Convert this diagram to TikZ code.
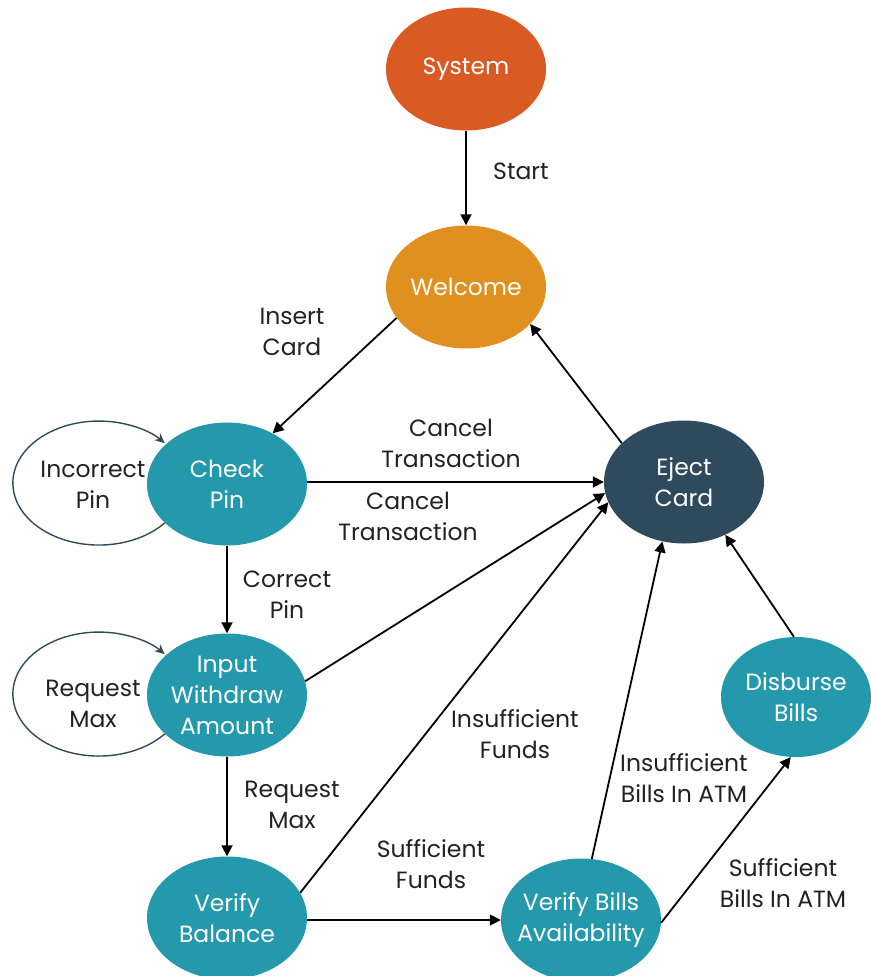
\documentclass[tikz,border=0pt]{standalone}
\usepackage{fontspec}
\setmainfont{Poppins}
\usetikzlibrary{shapes.geometric,arrows.meta}
\definecolor{sysorange}{HTML}{DA5A24}
\definecolor{welorange}{HTML}{E0901F}
\definecolor{tealst}{HTML}{2499AB}
\definecolor{ejectblue}{HTML}{2E4A5C}
\definecolor{loopslate}{HTML}{2F4B5A}
\definecolor{labelgray}{HTML}{222222}

\begin{document}
\begin{tikzpicture}[x=1pt,y=-1pt,
  state/.style={ellipse, minimum width=160pt, minimum height=123pt, inner sep=0pt,
    text=white, align=center, font=\fontsize{23.5}{31}\selectfont},
  lbl/.style={align=center, text=labelgray, inner sep=0pt, font=\fontsize{23.5}{31}\selectfont},
  arr/.style={draw=black, line width=1.8pt, -{Triangle[length=11pt,width=11pt]}},
  loopline/.style={draw=loopslate, line width=1.4pt, -{Stealth[length=10pt,width=9pt]}}]

\useasboundingbox (0,0) rectangle (870,976);

% states
\node[state, fill=sysorange] (sys) at (466,69) {System};
\node[state, fill=welorange] (wel) at (466,287) {Welcome};
\node[state, fill=tealst] (cp) at (227,484) {Check\\Pin};
\node[state, fill=ejectblue] (ec) at (684,482) {Eject\\Card};
\node[state, fill=tealst] (iw) at (227,695) {Input\\Withdraw\\Amount};
\node[state, fill=tealst, minimum width=150pt, minimum height=120pt] (db) at (796,697) {Disburse\\Bills};
\node[state, fill=tealst] (vb) at (227,918) {Verify\\Balance};
\node[state, fill=tealst, inner xsep=-20pt] (vba) at (581,920) {Verify Bills\\Availability};

% self loops
\draw[loopline] (cp.212) arc[start angle=40, end angle=320, x radius=86, y radius=62];
\draw[loopline] (iw.212) arc[start angle=40, end angle=320, x radius=86, y radius=62];

% transitions
\draw[arr] (sys) -- (wel);
\draw[arr] (wel.204) -- (cp.48);
\draw[arr] (cp.east |- ec.west) -- (ec.west);
\draw[arr] (iw.10) -- (ec.188);
\draw[arr] (vb.19) -- (ec.195);
\draw[arr] (cp) -- (iw);
\draw[arr] (iw) -- (vb);
\draw[arr] (vb.east |- vba.west) -- (vba.west);
\draw[arr] (vba.80) -- (ec.250);
\draw[arr] (vba.358) -- (db.265);
\draw[arr] (db.92) -- (ec.308);
\draw[arr] (ec.148) -- (wel.330);

% transition labels
\node[lbl] (lstart) at (521,171) {Start};
\node[lbl] (linsert) at (292,332) {Insert\\Card};
\node[lbl] (lcancela) at (451,443) {Cancel\\Transaction};
\node[lbl] (lcancelb) at (408,516) {Cancel\\Transaction};
\node[lbl] (lincorrect) at (93,485) {Incorrect\\Pin};
\node[lbl] (lcorrect) at (287,595) {Correct\\Pin};
\node[lbl] (lreqa) at (93,704) {Request\\Max};
\node[lbl] (lreqb) at (292,805) {Request\\Max};
\node[lbl] (linsfunds) at (515,734) {Insufficient\\Funds};
\node[lbl] (lsuffunds) at (431,864) {Sufficient\\Funds};
\node[lbl] (linsbills) at (684,778) {Insufficient\\Bills In ATM};
\node[lbl] (lsufbills) at (783,883) {Sufficient\\Bills In ATM};
\end{tikzpicture}
\end{document}
